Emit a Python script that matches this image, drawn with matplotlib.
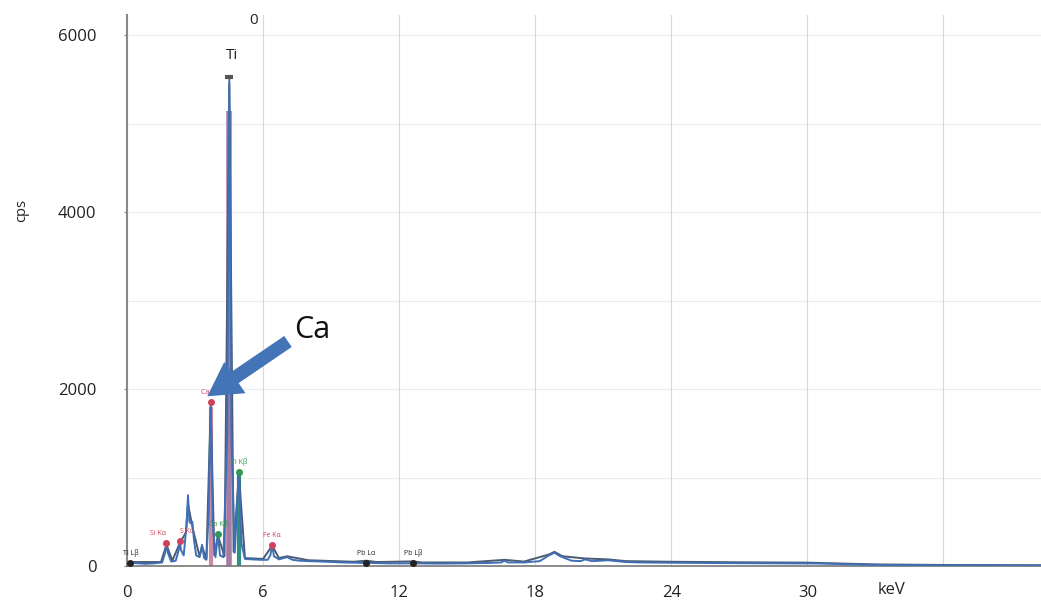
import matplotlib
matplotlib.use("Agg")
import matplotlib.pyplot as plt

plt.rcParams['font.family'] = ['Open Sans', 'DejaVu Sans']

# spectrum, blue trace (keV, cps)
blue_kev = [0.0, 0.15, 0.3, 0.5, 0.8, 1.2, 1.55, 1.68, 1.74, 1.80, 1.95, 2.15, 2.28, 2.33,
            2.38, 2.5, 2.62, 2.69, 2.75, 2.82, 2.88, 2.95, 3.05, 3.2, 3.31, 3.4, 3.5, 3.6,
            3.69, 3.78, 3.9, 4.01, 4.1, 4.25, 4.42, 4.51, 4.6, 4.75, 4.93, 5.05, 5.2, 5.5,
            5.9, 6.2, 6.32, 6.4, 6.48, 6.7, 7.06, 7.3, 7.6, 8.0, 8.6, 9.5, 10.4, 10.55,
            10.7, 11.5, 12.45, 12.61, 12.8, 13.5, 14.2, 15.0, 16.0, 16.5, 16.65, 16.8,
            17.5, 18.2, 18.6, 18.85, 19.1, 19.6, 20.0, 20.2, 20.5, 20.9, 21.2, 21.6, 22.0,
            22.6, 23.5, 25.0, 27.0, 29.0, 30.5, 31.5, 32.5, 34.0, 36.0, 38.0, 40.3]
blue_cps = [10, 30, 35, 30, 25, 30, 40, 150, 255, 150, 50, 60, 180, 280,
            180, 120, 450, 800, 500, 480, 500, 300, 120, 100, 240, 90, 70, 600,
            1850, 500, 100, 360, 120, 100, 1500, 5530, 1500, 150, 1060, 250, 80, 75,
            70, 70, 120, 240, 110, 75, 100, 70, 60, 55, 50, 40, 35, 45,
            35, 30, 30, 40, 30, 28, 28, 30, 35, 40, 60, 40,
            40, 55, 120, 150, 110, 60, 55, 75, 55, 60, 65, 55, 45,
            40, 38, 35, 32, 30, 28, 22, 15, 10, 8, 6, 5]

# second (dark) trace
dark_kev = [0.0, 0.3, 1.5, 1.74, 2.0, 2.33, 2.6, 2.69, 2.9, 3.2, 3.31, 3.5, 3.69, 3.85,
            4.01, 4.3, 4.51, 4.7, 4.93, 5.2, 6.0, 6.4, 6.7, 7.06, 8.0, 10.0, 10.55, 11.0,
            12.61, 13.0, 15.0, 16.65, 17.5, 18.6, 18.85, 19.2, 20.2, 21.2, 22.0, 24.0,
            27.0, 30.0, 31.5, 33.0, 36.0, 40.3]
dark_cps = [20, 45, 45, 240, 60, 260, 380, 700, 420, 110, 220, 80, 1800, 120,
            340, 110, 5450, 160, 1040, 90, 80, 230, 90, 110, 65, 48, 60, 45,
            52, 40, 40, 70, 50, 130, 160, 110, 85, 75, 55, 48,
            42, 38, 28, 18, 12, 8]

# labelled lines: name, keV, cps, colour, text alignment
line_names = ['Si Kα', 'S Kα', 'Ca Kα', 'Ca Kβ', 'Ti Kβ', 'Fe Kα', 'Pb Lα', 'Pb Lβ', 'Ti Lβ']
line_kev = [1.74, 2.33, 3.69, 4.01, 4.93, 6.4, 10.55, 12.61, 0.15]
line_cps = [255, 280, 1850, 360, 1060, 240, 30, 30, 30]
line_colors = ['#d2405a', '#d2405a', '#d2405a', '#2f9a50', '#2f9a50', '#d2405a',
               '#222222', '#222222', '#222222']
line_align = ['right', 'left', 'center', 'center', 'center', 'center', 'center', 'center', 'center']

ti_kev, ti_cps = 4.51, 5530

x_ticks = [0, 6, 12, 18, 24, 30, 36]
x_labels = ['0', '6', '12', '18', '24', '30', '']
y_ticks = [0, 2000, 4000, 6000]

fig = plt.figure(figsize=(10.41, 6.06), dpi=100)
ax = fig.add_axes([0.122, 0.066, 0.878, 0.909])

# faint grid
for yv in range(1000, 7000, 1000):
    ax.axhline(yv, color='#ececec', lw=0.8, zorder=0)
for xv in x_ticks[1:]:
    ax.axvline(xv, color='#d8d8d8', lw=0.8, zorder=0)

# coloured line markers behind the spectrum
ax.vlines(ti_kev, 0, ti_cps * 0.93, color='#a57aa3', lw=4, zorder=1)
ax.vlines(4.93, 0, 1060, color='#2f8f80', lw=3, zorder=1)
ax.vlines(3.69, 0, 1800, color='#c98aa8', lw=3, zorder=1)

ax.plot(dark_kev, dark_cps, color='#4c5a70', lw=1.4, zorder=2)
ax.plot(blue_kev, blue_cps, color='#3f6fb5', lw=1.4, zorder=3)

for name, kev, cps, col, al in zip(line_names, line_kev, line_cps, line_colors, line_align):
    ax.plot(kev, cps, marker='o', ms=4, color=col, zorder=4)
    ax.text(kev, cps + 70, name, color=col, fontsize=5, ha=al, va='bottom', zorder=4)

ax.plot(ti_kev, ti_cps, marker='_', ms=6, mew=3, color='#555555', zorder=4)
ax.text(4.63, 5770, 'Ti', fontsize=11, color='#222222', ha='center', va='center')
ax.text(5.56, 6170, '0', fontsize=11, color='#222222', ha='center', va='center')

# big arrow pointing at Ca
ax.annotate('', xy=(3.44, 1900), xytext=(7.2, 2555),
            arrowprops=dict(arrowstyle='simple,head_length=1.5,head_width=1.7,tail_width=0.6',
                            mutation_scale=16, color='#4374b8', lw=0), zorder=5)
ax.text(8.15, 2670, 'Ca', fontsize=22, color='#111111', ha='center', va='center', zorder=5)

ax.set_xlim(0, 40.3)
ax.set_ylim(0, 6225)
ax.set_xticks(x_ticks)
ax.set_xticklabels(x_labels)
ax.set_yticks(y_ticks)
ax.tick_params(axis='x', length=0, pad=14, labelsize=12, labelcolor='#222222')
ax.tick_params(axis='y', length=2, pad=20, labelsize=12, labelcolor='#222222', color='#888888')
ax.text(33.7, -270, 'keV', fontsize=12, color='#222222', ha='center', va='center')
fig.text(0.021, 0.653, 'cps', rotation=90, fontsize=10.5, color='#222222', ha='center', va='center')

for side in ['top', 'right']:
    ax.spines[side].set_visible(False)
ax.spines['left'].set_color('#888888')
ax.spines['left'].set_linewidth(1.5)
ax.spines['bottom'].set_color('#777777')
ax.spines['bottom'].set_linewidth(1.2)

fig.savefig('out.png', dpi=100)
